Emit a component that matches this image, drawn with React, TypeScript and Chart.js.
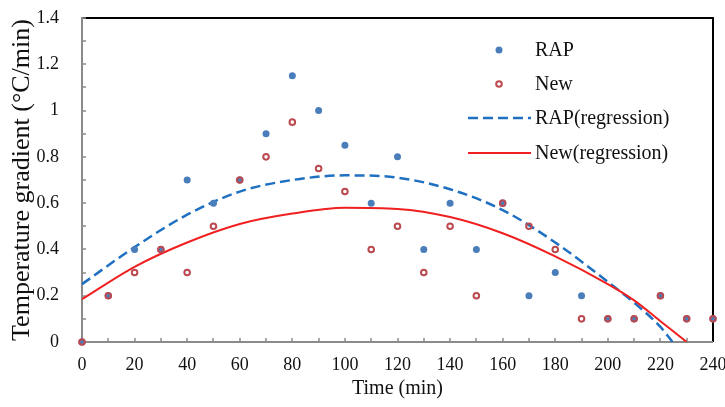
import React, { useEffect, useRef } from "react";
import { Chart, registerables } from "chart.js";

Chart.register(...registerables);

const TIME = [0, 10, 20, 30, 40, 50, 60, 70, 80, 90, 100, 110, 120, 130, 140, 150, 160, 170, 180, 190, 200, 210, 220, 230, 240];
const RAP = [0, 0.2, 0.4, 0.4, 0.7, 0.6, 0.7, 0.9, 1.15, 1.0, 0.85, 0.6, 0.8, 0.4, 0.6, 0.4, 0.6, 0.2, 0.3, 0.2, 0.1, 0.1, 0.2, 0.1, 0.1];
const NEW = [0, 0.2, 0.3, 0.4, 0.3, 0.5, 0.7, 0.8, 0.95, 0.75, 0.65, 0.4, 0.5, 0.3, 0.5, 0.2, 0.6, 0.5, 0.4, 0.1, 0.1, 0.1, 0.2, 0.1, 0.1];

const RAP_REG_X = [0, 20, 40, 60, 80, 100, 120, 140, 160, 180, 200, 210, 220, 224.6];
const RAP_REG_Y = [0.25, 0.41, 0.55, 0.65, 0.7, 0.72, 0.71, 0.66, 0.57, 0.43, 0.26, 0.17, 0.065, 0];
const NEW_REG_X = [0, 20, 40, 60, 80, 100, 120, 140, 160, 180, 200, 210, 220, 230];
const NEW_REG_Y = [0.185, 0.325, 0.43, 0.51, 0.555, 0.58, 0.575, 0.54, 0.47, 0.37, 0.25, 0.18, 0.09, 0];

const X_MIN = 0, X_MAX = 240, X_STEP = 20, X_MINOR = 10;
const Y_MIN = 0, Y_MAX = 1.4, Y_STEP = 0.2, Y_MINOR = 0.1;

const LABELS = ["RAP", "New", "RAP(regression)", "New(regression)"];
const X_TITLE = "Time (min)";
const Y_TITLE = "Temperature gradient (°C/min)";

const FONT = "'Liberation Serif', 'Times New Roman', serif";
const BLUE_PT = "#4a7ebb";
const RED_PT = "#bb4a50";
const BLUE_LINE = "#1f70c1";
const RED_LINE = "#f02020";
const AXIS_GRAY = "#8a8a8a";

const framePlugin = {
  id: "frame",
  beforeDatasetsDraw(chart: any) {
    const { ctx, chartArea: a, scales } = chart;
    const xs = scales.x, ys = scales.y;
    ctx.save();
    ctx.strokeStyle = "#000";
    ctx.lineWidth = 2;
    ctx.beginPath();
    ctx.moveTo(a.left, a.top);
    ctx.lineTo(a.right, a.top);
    ctx.lineTo(a.right, a.bottom);
    ctx.stroke();
    ctx.strokeStyle = AXIS_GRAY;
    ctx.lineWidth = 2;
    ctx.beginPath();
    ctx.moveTo(a.left, a.top - 1);
    ctx.lineTo(a.left, a.bottom);
    ctx.lineTo(a.right, a.bottom);
    ctx.stroke();
    ctx.lineWidth = 1.5;
    ctx.beginPath();
    for (let v = Y_MIN + Y_MINOR; v <= Y_MAX + 1e-9; v += Y_MINOR) {
      const y = Math.round(ys.getPixelForValue(v));
      ctx.moveTo(a.left, y);
      ctx.lineTo(a.left + 4, y);
    }
    for (let v = X_MIN + X_MINOR; v < X_MAX - 1e-9; v += X_MINOR) {
      const x = Math.round(xs.getPixelForValue(v));
      ctx.moveTo(x, a.bottom);
      ctx.lineTo(x, a.bottom - 4);
    }
    ctx.stroke();
    ctx.restore();
  },
  afterDraw(chart: any) {
    const { ctx } = chart;
    const ds = chart.data.datasets;
    ctx.save();
    ctx.textBaseline = "middle";
    ctx.textAlign = "left";
    const tx = 535;
    const rows = [50, 84, 118, 153];
    ctx.fillStyle = BLUE_PT;
    ctx.beginPath();
    ctx.arc(499, rows[0], 3.5, 0, Math.PI * 2);
    ctx.fill();
    ctx.strokeStyle = RED_PT;
    ctx.lineWidth = 2;
    ctx.beginPath();
    ctx.arc(499, rows[1], 2.8, 0, Math.PI * 2);
    ctx.stroke();
    ctx.strokeStyle = BLUE_LINE;
    ctx.lineWidth = 2.5;
    ctx.setLineDash([10, 5]);
    ctx.beginPath();
    ctx.moveTo(468, rows[2]);
    ctx.lineTo(531, rows[2]);
    ctx.stroke();
    ctx.setLineDash([]);
    ctx.strokeStyle = RED_LINE;
    ctx.lineWidth = 2;
    ctx.beginPath();
    ctx.moveTo(468, rows[3]);
    ctx.lineTo(531, rows[3]);
    ctx.stroke();
    ctx.fillStyle = "#111";
    ctx.font = `20px ${FONT}`;
    [0, 1, 2, 3].forEach((i) => {
      ctx.fillText(ds[i].label, tx, rows[i] + 1);
    });
    ctx.restore();
  },
};

const fmt = (v: any) => String(parseFloat(Number(v).toFixed(1)));

export default function App() {
  const ref = useRef<HTMLCanvasElement>(null);
  useEffect(() => {
    if (!ref.current) return;
    const chart = new Chart(ref.current, {
      type: "scatter",
      data: {
        datasets: [
          {
            label: LABELS[0],
            data: TIME.map((t, i) => ({ x: t, y: RAP[i] })),
            backgroundColor: BLUE_PT,
            borderColor: BLUE_PT,
            pointRadius: 3.5,
            borderWidth: 0,
            order: 1,
            clip: false,
          },
          {
            label: LABELS[1],
            data: TIME.map((t, i) => ({ x: t, y: NEW[i] })),
            backgroundColor: "rgba(0,0,0,0)",
            borderColor: RED_PT,
            pointRadius: 2.8,
            borderWidth: 2,
            order: 0,
            clip: false,
          },
          {
            label: LABELS[2],
            data: RAP_REG_X.map((t, i) => ({ x: t, y: RAP_REG_Y[i] })),
            showLine: true,
            borderColor: BLUE_LINE,
            backgroundColor: BLUE_LINE,
            borderWidth: 2.5,
            borderDash: [10, 5],
            pointRadius: 0,
            cubicInterpolationMode: "monotone",
            order: 3,
          },
          {
            label: LABELS[3],
            data: NEW_REG_X.map((t, i) => ({ x: t, y: NEW_REG_Y[i] })),
            showLine: true,
            borderColor: RED_LINE,
            backgroundColor: RED_LINE,
            borderWidth: 2,
            pointRadius: 0,
            cubicInterpolationMode: "monotone",
            order: 2,
          },
        ],
      },
      options: {
        animation: false,
        responsive: false,
        layout: { padding: { left: 0, top: 18, right: 12, bottom: 0 } },
        plugins: { legend: { display: false }, tooltip: { enabled: false } },
        scales: {
          x: {
            type: "linear",
            min: X_MIN,
            max: X_MAX,
            grid: { display: false },
            border: { display: false },
            ticks: {
              stepSize: X_STEP,
              color: "#111",
              font: { family: FONT, size: 18 },
              padding: 4,
              maxRotation: 0,
              callback: fmt,
            },
            title: {
              display: true,
              text: X_TITLE,
              color: "#111",
              font: { family: FONT, size: 20, lineHeight: 1 },
              padding: { top: 0, bottom: 8 },
            },
            afterFit(scale: any) {
              scale.height = 65;
              scale.paddingLeft = 0;
              scale.paddingRight = 0;
            },
          },
          y: {
            min: Y_MIN,
            max: Y_MAX,
            grid: { display: false },
            border: { display: false },
            ticks: {
              stepSize: Y_STEP,
              color: "#111",
              font: { family: FONT, size: 18 },
              padding: 15,
              callback: fmt,
            },
            title: {
              display: true,
              text: Y_TITLE,
              color: "#111",
              font: { family: FONT, size: 26, lineHeight: 1 },
              padding: { top: 9, bottom: 0 },
            },
            afterFit(scale: any) {
              scale.width = 82;
              scale.paddingTop = 0;
              scale.paddingBottom = 0;
            },
          },
        },
      },
      plugins: [framePlugin],
    });
    return () => chart.destroy();
  }, []);
  return (
    <div style={{ position: "absolute", left: 0, top: 0, width: 725, height: 407, background: "#fff" }}>
      <canvas ref={ref} width={725} height={407} />
    </div>
  );
}
